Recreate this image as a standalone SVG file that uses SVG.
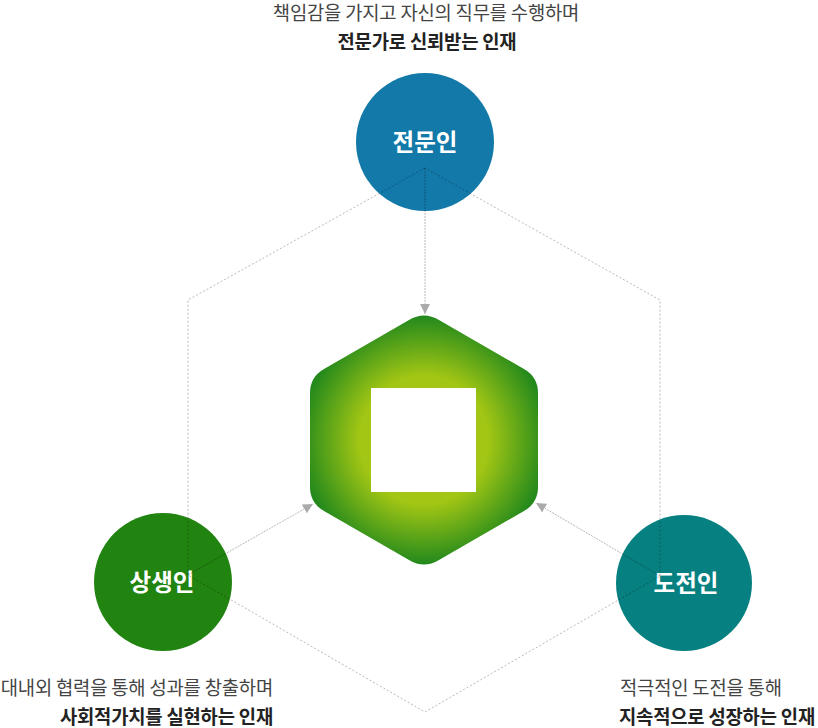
<svg xmlns="http://www.w3.org/2000/svg" width="818" height="728" viewBox="0 0 818 728">
<style>
.cap{font-family:"Noto Sans CJK KR","Noto Sans",sans-serif;font-size:18.8px;fill:#444;letter-spacing:-0.2px}
.capb{font-family:"Noto Sans CJK KR","Noto Sans",sans-serif;font-size:18.8px;font-weight:bold;fill:#222;letter-spacing:-0.2px}
.lbl{font-family:"Noto Sans CJK KR","Noto Sans",sans-serif;font-size:23.5px;font-weight:bold;fill:#fff;text-anchor:middle}
.dot{fill:none;stroke:rgba(0,0,0,0.28);stroke-width:1;stroke-dasharray:2 2}
.arr{fill:none;stroke:rgba(0,0,0,0.28);stroke-width:1;stroke-dasharray:2 1;marker-end:url(#ah)}
</style>
<defs>
<radialGradient id="g" cx="424" cy="440" r="124" gradientUnits="userSpaceOnUse">
<stop offset="0" stop-color="#a9c913"/>
<stop offset="0.52" stop-color="#a2c614"/>
<stop offset="1" stop-color="#23891c"/>
</radialGradient>
<marker id="ah" viewBox="0 0 10 10" refX="10" refY="5" markerWidth="10" markerHeight="10" markerUnits="userSpaceOnUse" orient="auto">
<path d="M0,0 L10,5 L0,10 z" fill="#aaa"/>
</marker>
</defs>
<g id="center">
<path d="M409,320 Q424,311 439,320 L524,369 Q538,377 538,393 L538,487 Q538,503 524,511 L439,560 Q424,569 409,560 L324,511 Q310,503 310,487 L310,393 Q310,377 324,369 Z" fill="url(#g)"/>
<rect x="371" y="388" width="105" height="104" fill="#fff"/>
</g>
<g id="node-top">
<circle cx="425" cy="142" r="69" fill="#1279a8"/>
<text class="lbl" x="425" y="151">전문인</text>
</g>
<g id="node-left">
<circle cx="163" cy="582" r="69" fill="#218310"/>
<text class="lbl" x="162" y="591">상생인</text>
</g>
<g id="node-right">
<circle cx="684" cy="583" r="68" fill="#068080"/>
<text class="lbl" x="686" y="592">도전인</text>
</g>
<g id="connectors">
<path class="dot" d="M425,168 L188,300 L188,575 L425,712 L660,576 L660,300 Z"/>
<path class="arr" d="M425,168 L425,314"/>
<path class="arr" d="M188,575 L313,504"/>
<path class="arr" d="M660,576 L536,503"/>
</g>
<g id="captions">
<text class="cap" x="426" y="20" text-anchor="middle">책임감을 가지고 자신의 직무를 수행하며</text>
<text class="capb" x="427" y="49" text-anchor="middle">전문가로 신뢰받는 인재</text>
<text class="cap" x="273" y="695" text-anchor="end">대내외 협력을 통해 성과를 창출하며</text>
<text class="capb" x="273" y="724" text-anchor="end">사회적가치를 실현하는 인재</text>
<text class="cap" x="620" y="695">적극적인 도전을 통해</text>
<text class="capb" x="619" y="724">지속적으로 성장하는 인재</text>
</g>
</svg>
